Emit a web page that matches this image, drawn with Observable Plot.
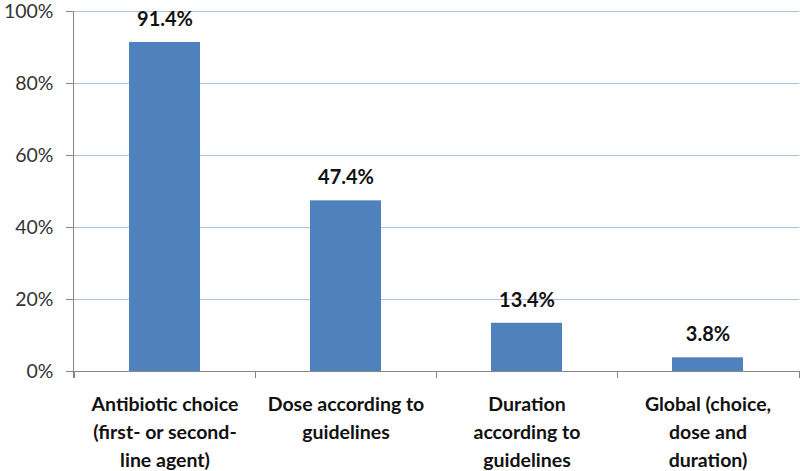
<!DOCTYPE html>
<html><head><meta charset="utf-8">
<script src="https://cdn.jsdelivr.net/npm/d3@7"></script>
<script src="https://cdn.jsdelivr.net/npm/@observablehq/plot@0.6"></script>
<style>
html,body{margin:0;padding:0;background:#fff;}
#chart svg{display:block;}
</style>
</head><body><div id="chart"></div>
<script>
const categories = [
  "Antibiotic choice\n(first- or second-\nline agent)",
  "Dose according to\nguidelines",
  "Duration\naccording to\nguidelines",
  "Global (choice,\ndose and\nduration)"
];
const values = [91.4, 47.4, 13.4, 3.8];
const valueLabels = ["91.4%", "47.4%", "13.4%", "3.8%"];
const yTicks = [0, 20, 40, 60, 80, 100];

const data = categories.map((c, i) => ({cat: c, v: values[i], label: valueLabels[i]}));

const W = 800, H = 471, ML = 73, MR = 1, MT = 11, MB = 100;

function boundaryTicks() {
  return (index, scales, values, dims) => {
    const g = d3.create("svg:g");
    const step = (dims.width - dims.marginLeft - dims.marginRight) / categories.length;
    const y0 = dims.height - dims.marginBottom;
    const xs = categories.map(c => scales.x(c));
    xs.push(xs[xs.length - 1] + step);
    xs.forEach((x, i) => {
      g.append("line")
        .attr("x1", Math.round(x) + 0.5).attr("x2", Math.round(x) + 0.5)
        .attr("y1", y0).attr("y2", y0 + 7)
        .attr("stroke", "#868686").attr("stroke-width", 1);
    });
    g.append("line")
      .attr("x1", dims.marginLeft + 0.5).attr("x2", dims.marginLeft + 0.5)
      .attr("y1", dims.marginTop).attr("y2", y0 + 7)
      .attr("stroke", "#868686");
    g.append("line")
      .attr("x1", dims.marginLeft).attr("x2", dims.width - dims.marginRight)
      .attr("y1", y0 + 0.5).attr("y2", y0 + 0.5)
      .attr("stroke", "#868686");
    return g.node();
  };
}

const chart = Plot.plot({
  width: W, height: H,
  marginLeft: ML, marginRight: MR, marginTop: MT, marginBottom: MB,
  style: {fontFamily: "Lato, 'Open Sans', sans-serif", background: "#fff"},
  x: {domain: categories, padding: 0, align: 0.5},
  y: {domain: [0, 100]},
  marks: [
    Plot.ruleY(yTicks.filter(t => t > 0), {y: d => d, stroke: "#a9c2e0", strokeWidth: 1}),
    Plot.barY(data, {x: "cat", y: "v", fill: "#4f81bd", insetLeft: 55, insetRight: 55}),
    Plot.text(data, {x: "cat", y: "v", text: "label", dy: -23, fontWeight: "bold", fontSize: 20, fill: "#111"}),
    Plot.axisY({ticks: yTicks, tickFormat: d => d + "%", tickSize: 7, tickPadding: 13, stroke: "#868686", fontSize: 19.5, fill: "#333", label: null}),
    Plot.axisX({tickSize: 0, tickPadding: 20, fontSize: 19.5, fontWeight: "bold", fill: "#111", lineHeight: 1.42, label: null}),
    boundaryTicks()
  ]
});
document.getElementById("chart").appendChild(chart);
</script>
</body></html>
